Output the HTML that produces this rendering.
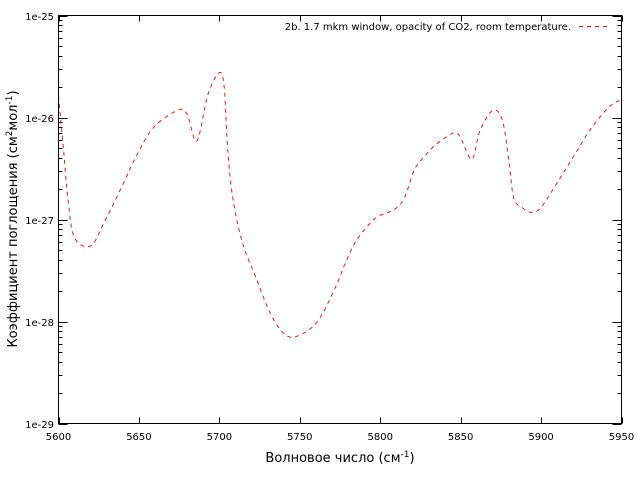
<!DOCTYPE html>
<html><head><meta charset="utf-8"><style>
body{margin:0;background:#fff;}
svg{display:block;font-family:"DejaVu Sans","Liberation Sans",sans-serif;}
</style></head><body>
<svg width="640" height="480" viewBox="0 0 640 480" id="chart">
<rect x="0" y="0" width="640" height="480" fill="#fff"/>
<g id="ticks"></g>
<g id="labels" font-size="10" fill="#000"></g>
<path id="series" fill="none" stroke="#e41a1c" stroke-width="1" stroke-dasharray="4,4"/>
<rect x="58.5" y="15.5" width="563" height="408" fill="none" stroke="#000" stroke-width="1"/>
<text x="340" y="462" font-size="13" text-anchor="middle">Волновое число (см<tspan dy="-5" font-size="9">-1</tspan><tspan dy="5">)</tspan></text>
<text transform="translate(17,219) rotate(-90)" font-size="13" text-anchor="middle">Коэффициент поглощения (см<tspan dy="-5" font-size="9">2</tspan><tspan dy="5">мол</tspan><tspan dy="-5" font-size="9">-1</tspan><tspan dy="5">)</tspan></text>
<g>
<text x="571" y="30" font-size="10" text-anchor="end">2b. 1.7 mkm window, opacity of CO2, room temperature.</text>
<line x1="579" y1="26.5" x2="611" y2="26.5" stroke="#e41a1c" stroke-dasharray="4,4"/>
</g>
</svg>
<script>
const wavenumbers=[5600,5603,5606,5610,5620,5628,5639,5648,5659,5674,5680,5686,5693,5700,5703,5705,5708,5714,5722,5732,5741,5749,5761,5772,5778,5785,5796,5803,5809,5815,5821,5827,5835,5846,5850,5857,5862,5870,5876,5880,5883,5888,5894,5900,5910,5921,5931,5942,5949];
const logValues=[-25.79,-26.29,-26.82,-27.18,-27.26,-27.04,-26.69,-26.39,-26.10,-25.93,-25.97,-26.23,-25.77,-25.56,-25.70,-26.26,-26.75,-27.21,-27.54,-27.93,-28.13,-28.14,-28.00,-27.67,-27.44,-27.21,-27.00,-26.94,-26.90,-26.79,-26.52,-26.39,-26.26,-26.15,-26.20,-26.41,-26.13,-25.93,-26.03,-26.43,-26.79,-26.88,-26.93,-26.88,-26.64,-26.36,-26.11,-25.90,-25.83];
const xTicks=[5600,5650,5700,5750,5800,5850,5900,5950];
const yTickExps=[-25,-26,-27,-28,-29];
const X0=58.5,X1=621.5,Y0=15.5,Y1=423.5;
function xs(v){return X0+(v-5600)/(5950-5600)*(X1-X0);}
function ys(l){return Y0+(-25-l)/4*(Y1-Y0);}
const NS="http://www.w3.org/2000/svg";
const tg=document.getElementById('ticks'),lg=document.getElementById('labels');
function line(x1,y1,x2,y2,name){const e=document.createElementNS(NS,'line');e.setAttribute('x1',x1);e.setAttribute('y1',y1);e.setAttribute('x2',x2);e.setAttribute('y2',y2);e.setAttribute('stroke','#000');


tg.appendChild(e);}
function text(x,y,s,anchor,name){const e=document.createElementNS(NS,'text');e.setAttribute('x',x);e.setAttribute('y',y);e.setAttribute('text-anchor',anchor);e.textContent=s;


lg.appendChild(e);}
xTicks.forEach(v=>{const x=Math.round(xs(v))+0.5;line(x,Y1,x,Y1-6,'x-tick');line(x,Y0,x,Y0+6,'x-tick');text(xs(v),440,String(v),'middle','x-tick-label');});
yTickExps.forEach(e=>{const y=Math.round(ys(e))+0.5;line(X0,y,X0+9,y,'y-tick');line(X1,y,X1-9,y,'y-tick');text(54,y+3.5,'1e'+e,'end','y-tick-label');
if(e>-29){for(let m=2;m<10;m++){const yy=Math.round(ys(e-1+Math.log10(m)))+0.5;line(X0,yy,X0+4,yy,'y-minor-tick');line(X1,yy,X1-4,yy,'y-minor-tick');}}});
const pts=wavenumbers.map((w,i)=>[xs(w),ys(logValues[i])]);
let d='M'+pts[0][0].toFixed(1)+','+pts[0][1].toFixed(1);
for(let i=0;i<pts.length-1;i++){const p0=pts[Math.max(0,i-1)],p1=pts[i],p2=pts[i+1],p3=pts[Math.min(pts.length-1,i+2)];
const c1=[p1[0]+(p2[0]-p0[0])/6,p1[1]+(p2[1]-p0[1])/6],c2=[p2[0]-(p3[0]-p1[0])/6,p2[1]-(p3[1]-p1[1])/6];
d+=' C'+c1[0].toFixed(1)+','+c1[1].toFixed(1)+' '+c2[0].toFixed(1)+','+c2[1].toFixed(1)+' '+p2[0].toFixed(1)+','+p2[1].toFixed(1);}
document.getElementById('series').setAttribute('d',d);
</script>
</body></html>
